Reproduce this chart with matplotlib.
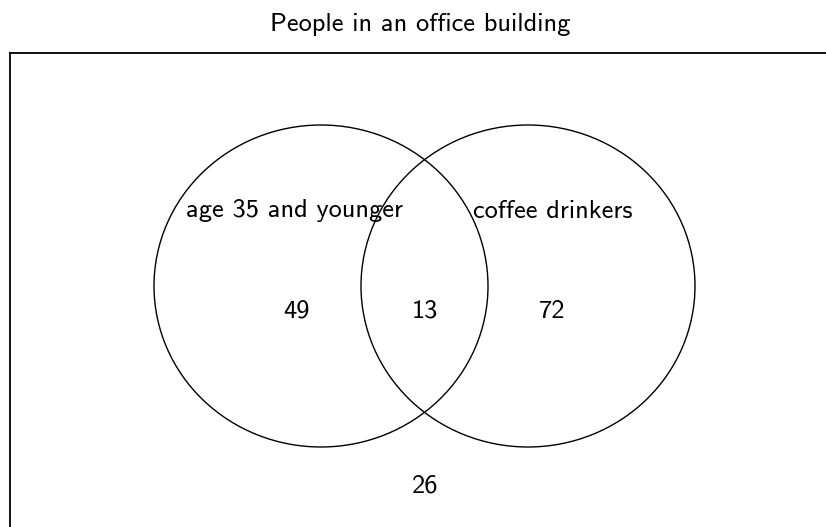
import matplotlib
matplotlib.use("Agg")
import matplotlib.pyplot as plt
from matplotlib.patches import Ellipse

title = "People in an office building"
set_labels = ["age 35 and younger", "coffee drinkers"]
only_a = 49
both = 13
only_b = 72
neither = 26

W, H = 826, 527
fig = plt.figure(figsize=(W / 100, H / 100), dpi=100)
plt.rcParams['font.family'] = ['cmss10', 'DejaVu Sans']

# axes box runs off the right and bottom of the picture
x0, x1 = 10, 1000
y0, y1 = 53, 700
ax = fig.add_axes([x0 / W, 1 - y1 / H, (x1 - x0) / W, (y1 - y0) / H])
ax.set_xlim(x0, x1)
ax.set_ylim(y1, y0)
ax.set_xticks([])
ax.set_yticks([])
for s in ax.spines.values():
    s.set_linewidth(1.3)

fig.text(420 / W, 1 - 25 / H, title, ha="center", va="center", fontsize=19)

cy = 286
for cx in (321, 528):
    ax.add_patch(Ellipse((cx, cy), 334, 322, fill=False, lw=1.0, ec="black"))

fs = 19
ax.text(186, 211, set_labels[0], ha="left", va="center", fontsize=fs)
ax.text(473, 211, set_labels[1], ha="left", va="center", fontsize=fs)
ax.text(297, 311, str(only_a), ha="center", va="center", fontsize=fs)
ax.text(425, 311, str(both), ha="center", va="center", fontsize=fs)
ax.text(552, 311, str(only_b), ha="center", va="center", fontsize=fs)
ax.text(425, 486, str(neither), ha="center", va="center", fontsize=fs)

fig.savefig("out.png", dpi=100)
